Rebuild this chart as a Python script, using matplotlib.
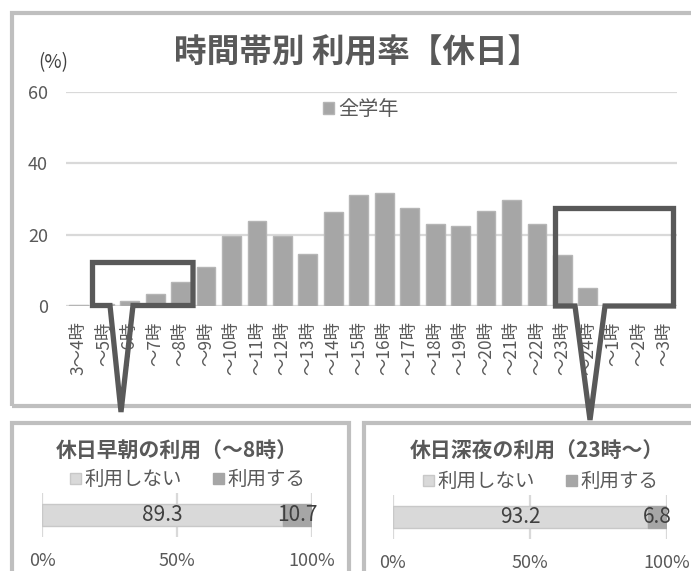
import matplotlib
matplotlib.use("Agg")
import matplotlib.pyplot as plt
from matplotlib.patches import Polygon, Rectangle

plt.rcParams['font.family'] = ['Noto Sans CJK JP', 'DejaVu Sans']

# ------------------------------------------------
# data
hours = ["3～4時", "～5時", "～6時", "～7時", "～8時", "～9時", "～10時", "～11時",
         "～12時", "～13時", "～14時", "～15時", "～16時", "～17時", "～18時", "～19時",
         "～20時", "～21時", "～22時", "～23時", "～24時", "～1時", "～2時", "～3時"]
usage = [0.3, 0.5, 1.4, 3.5, 6.6, 10.9, 19.5, 23.8, 19.5, 14.7, 26.4, 31.0,
         31.7, 27.6, 22.9, 22.3, 26.7, 29.8, 22.9, 14.2, 5.0, 0.0, 0.0, 0.0]

early_title = "休日早朝の利用（～8時）"
early_no, early_yes = 89.3, 10.7
late_title = "休日深夜の利用（23時～）"
late_no, late_yes = 93.2, 6.8

W, H = 691, 571
TXT = '#595959'
fig = plt.figure(figsize=(W / 100, H / 100), dpi=100)


def fx(px):
    return px / W


def fy(py):
    return 1 - py / H


def px_axes(l, t, r, b):
    return fig.add_axes([fx(l), fy(b), fx(r) - fx(l), fy(t) - fy(b)])


# outer frames
for (l, t, r, b) in [(12, 13, 700, 406), (12, 423, 349, 590), (364, 423, 700, 590)]:
    fig.add_artist(Rectangle((fx(l), fy(b)), fx(r) - fx(l), fy(t) - fy(b),
                             transform=fig.transFigure, fill=False,
                             ec='#bfbfbf', lw=3))

# ------------------------------------------------
# main bar chart
ax = px_axes(66, 92, 677, 306)
ax.bar(range(len(hours)), usage, width=0.74, color='#a6a6a6', edgecolor='#b5b5b5',
       lw=1, label='全学年', zorder=3)
ax.set_xlim(-0.5, len(hours) - 0.5)
ax.set_ylim(0, 60)
ax.set_yticks([0, 20, 40, 60])
ax.set_xticks(range(len(hours)))
ax.set_xticklabels(hours, rotation=90)
ax.grid(axis='y', color='#d9d9d9', lw=1.6, zorder=0)
for s in ax.spines.values():
    s.set_visible(False)
ax.tick_params(axis='y', length=0, pad=13, labelsize=13, labelcolor=TXT)
ax.tick_params(axis='x', length=0, pad=11, labelsize=12.5, labelcolor=TXT)
ax.legend(loc='center', bbox_to_anchor=(fx(361), fy(110)), bbox_transform=fig.transFigure,
          frameon=False, fontsize=14.5, handlelength=0.55, handleheight=0.55,
          handletextpad=0.2, labelcolor=TXT)

fig.text(fx(357), fy(53), "時間帯別 利用率【休日】", fontsize=23.5, fontweight='bold',
         color=TXT, ha='center', va='center')
fig.text(fx(53), fy(63), "(%)", fontsize=13.5, color='#404040', ha='center', va='center')

# callout shapes
callouts = [
    [(92.5, 262.5), (193, 262.5), (193, 305.5), (133, 305.5), (121, 412),
     (110, 305.5), (92.5, 305.5)],
    [(555.5, 208.5), (673.5, 208.5), (673.5, 306), (605, 306), (590, 420),
     (575, 306), (555.5, 306)],
]
for pts in callouts:
    fig.add_artist(Polygon([(fx(x), fy(y)) for x, y in pts], closed=True, fill=False,
                           ec='#595959', lw=3.8, joinstyle='miter',
                           transform=fig.transFigure, zorder=5))


# ------------------------------------------------
# bottom stacked bars
def share_panel(l, r, top, bottom, title, no, yes, title_x):
    a = px_axes(l, top, r, bottom)
    b1 = a.barh([0], [no], height=0.52, color='#d9d9d9', edgecolor='#c8c8c8', lw=1,
                label='利用しない', zorder=3)
    b2 = a.barh([0], [yes], left=[no], height=0.52, color='#a6a6a6', edgecolor='#a6a6a6',
                lw=1, label='利用する', zorder=3)
    a.bar_label(b1, fmt='%.1f', label_type='center', fontsize=15, color='#404040')
    a.bar_label(b2, fmt='%.1f', label_type='center', fontsize=15, color='#404040')
    a.set_xlim(0, 100)
    a.set_ylim(-0.5, 0.5)
    a.set_xticks([0, 50, 100])
    a.set_xticklabels(['0%', '50%', '100%'])
    a.set_yticks([])
    a.grid(axis='x', color='#d9d9d9', lw=1.6, zorder=0)
    for s in a.spines.values():
        s.set_visible(False)
    a.tick_params(axis='x', length=0, pad=11, labelsize=13, labelcolor=TXT)
    a.legend(loc='center', bbox_to_anchor=(0.54, 1.3), ncol=2, frameon=False,
             fontsize=14, handlelength=0.55, handleheight=0.55, handletextpad=0.2,
             columnspacing=1.6, labelcolor=TXT)
    fig.text(fx(title_x), fy(451), title, fontsize=15, fontweight='bold', color=TXT,
             ha='center', va='center')


share_panel(42, 312, 493, 537, early_title, early_no, early_yes, 177)
share_panel(393, 667, 495, 539, late_title, late_no, late_yes, 537)

fig.savefig('out.png', dpi=100)
